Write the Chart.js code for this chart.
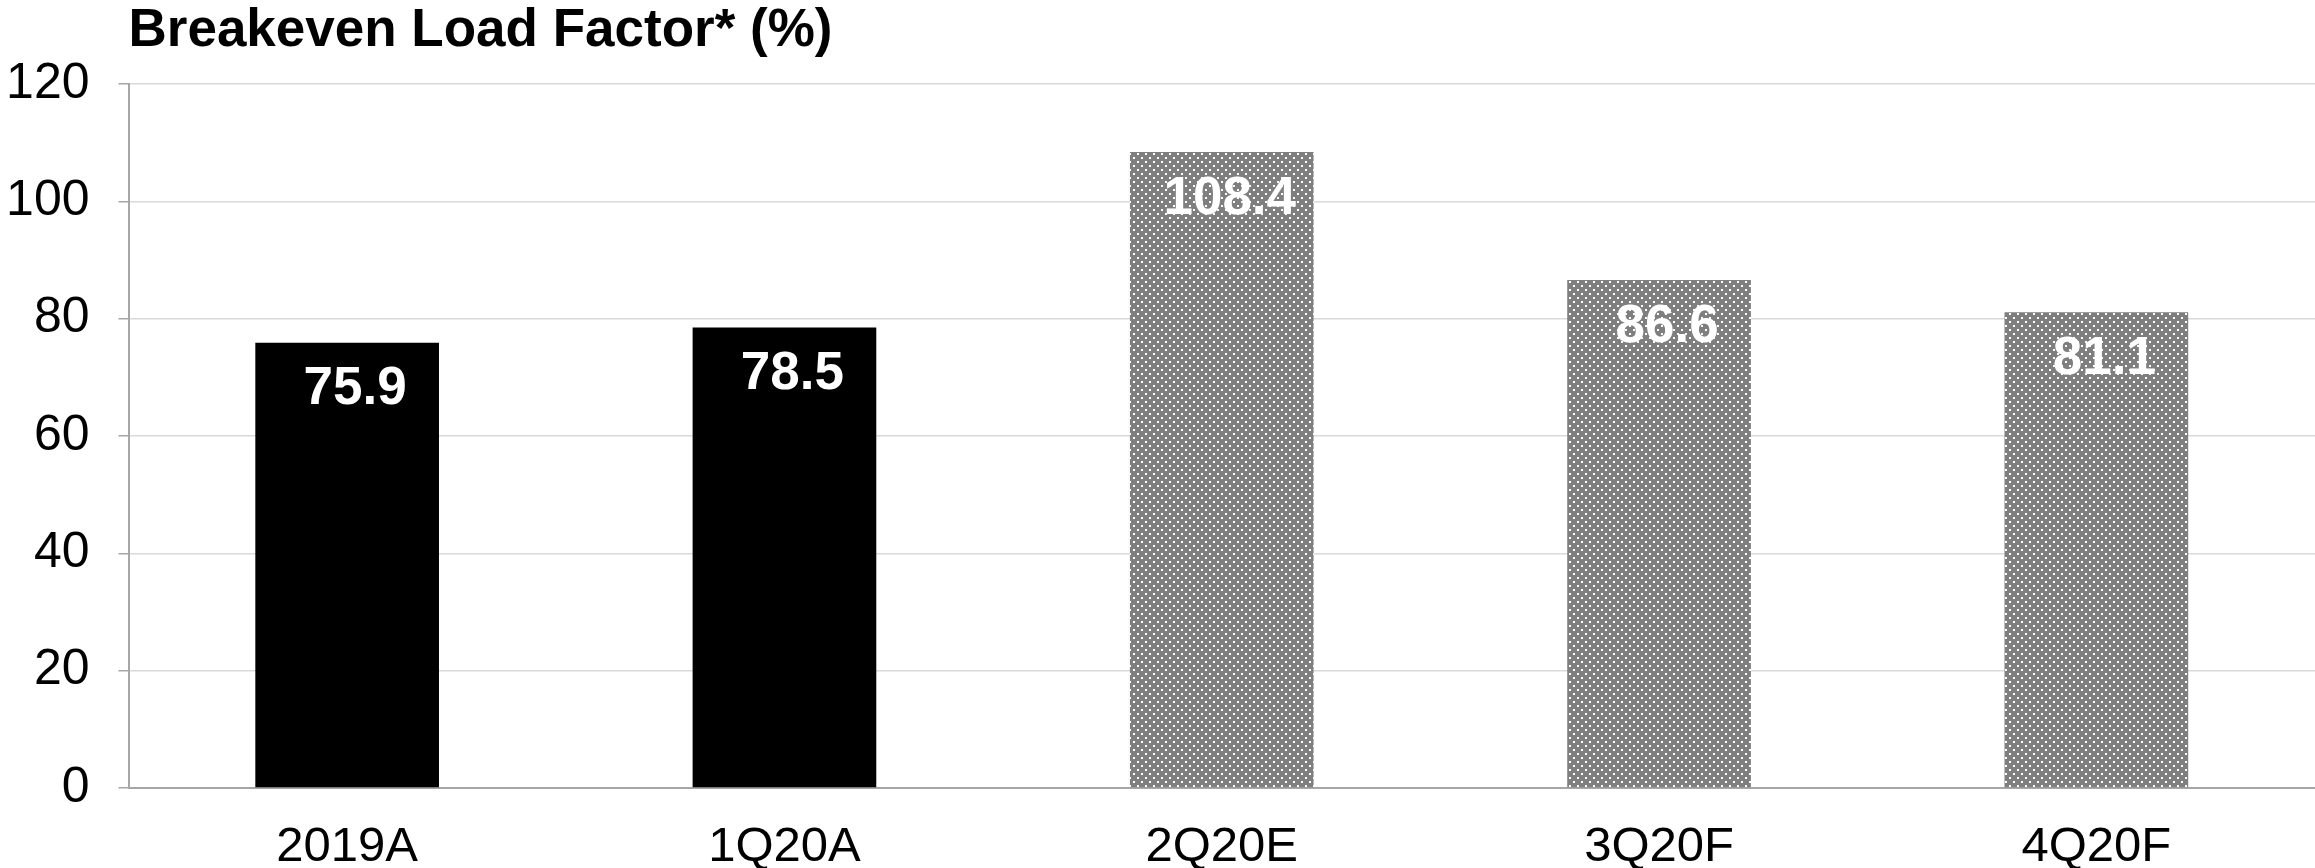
<!DOCTYPE html>
<html>
<head>
<meta charset="utf-8">
<script src="https://cdn.jsdelivr.net/npm/chart.js@4/dist/chart.umd.min.js"></script>
<style>
  html, body { margin: 0; padding: 0; background: #fff; }
  canvas { display: block; }
</style>
</head>
<body>
<canvas id="chart" width="2315" height="868" style="width:2315px;height:868px"></canvas>
<script>
const categories = ['2019A', '1Q20A', '2Q20E', '3Q20F', '4Q20F'];
const breakeven = [75.9, 78.5, 108.4, 86.6, 81.1];
const yTicks = [0, 20, 40, 60, 80, 100, 120];

const FONT = "'Liberation Sans', Arial, sans-serif";

// dotted gray fill used for the estimate / forecast bars
function dotPattern() {
  const c = document.createElement('canvas');
  c.width = 8;
  c.height = 8;
  const g = c.getContext('2d');
  g.fillStyle = '#7f7f7f';
  g.fillRect(0, 0, 8, 8);
  g.fillStyle = '#ffffff';
  g.fillRect(1, 1, 2, 2);
  g.fillRect(5, 5, 2, 2);
  return g.createPattern(c, 'repeat');
}

const ctx = document.getElementById('chart').getContext('2d');
const dots = dotPattern();
const barColors = categories.map(c => c.endsWith('A') ? '#000000' : dots);

const valueLabels = {
  id: 'valueLabels',
  afterDatasetsDraw(chart) {
    const c = chart.ctx;
    const meta = chart.getDatasetMeta(0);
    c.save();
    c.fillStyle = '#ffffff';
    c.font = 'bold 53px ' + FONT;
    c.textAlign = 'center';
    c.textBaseline = 'middle';
    meta.data.forEach((bar, i) => {
      c.fillText(breakeven[i].toFixed(1), bar.x + 8, bar.y + 47);
    });
    c.restore();
  }
};

new Chart(ctx, {
  type: 'bar',
  data: {
    labels: categories,
    datasets: [{
      data: breakeven,
      backgroundColor: barColors,
      borderWidth: 0,
      barPercentage: 0.42,
      categoryPercentage: 1.0
    }]
  },
  options: {
    responsive: false,
    animation: false,
    layout: { padding: { left: 6, right: 0, top: 0, bottom: 0 } },
    plugins: {
      legend: { display: false },
      tooltip: { enabled: false },
      title: {
        display: true,
        text: 'Breakeven Load Factor* (%)',
        align: 'start',
        fullSize: false,
        color: '#000000',
        font: { family: FONT, size: 53, weight: 'bold', lineHeight: 1.1 },
        padding: { top: 2, bottom: 23.7 }
      }
    },
    scales: {
      x: {
        afterFit(scale) { scale.height = 80; },
        grid: { display: false, drawTicks: false },
        border: { display: true, color: '#a6a6a6', width: 2 },
        ticks: {
          color: '#000000',
          padding: 35,
          font: { family: FONT, size: 49, lineHeight: 1.0 }
        }
      },
      y: {
        min: 0,
        max: 120,
        afterFit(scale) { scale.width = 122.5; },
        afterBuildTicks(scale) {
          scale.ticks = yTicks.map(v => ({ value: v }));
        },
        grid: {
          color: c => c.tick && c.tick.value === 0 ? '#a6a6a6' : '#d9d9d9',
          lineWidth: 1.5,
          tickColor: '#a6a6a6',
          tickLength: 10
        },
        border: { display: true, color: '#a6a6a6', width: 2 },
        ticks: {
          color: '#000000',
          padding: 29,
          font: { family: FONT, size: 50, lineHeight: 1.0 }
        }
      }
    }
  },
  plugins: [valueLabels]
});
</script>
</body>
</html>
